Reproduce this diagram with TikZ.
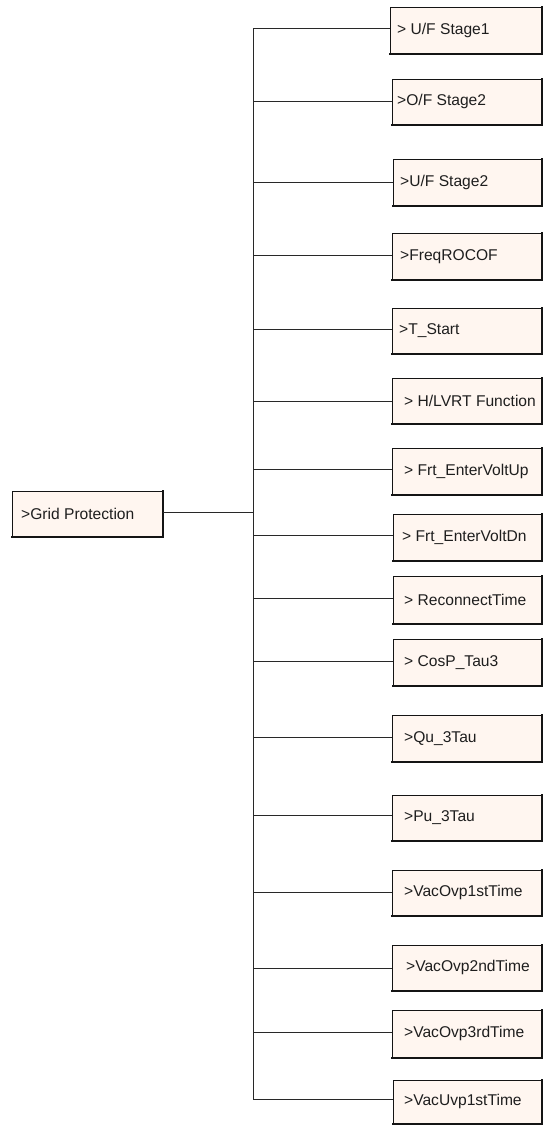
\documentclass[tikz,border=0pt]{standalone}
\usepackage{fontspec}
\setmainfont{Liberation Sans}
\definecolor{boxfill}{RGB}{255,246,240}
\definecolor{boxline}{RGB}{20,20,20}
\definecolor{conn}{RGB}{40,40,40}
\definecolor{txt}{RGB}{30,30,30}
\tikzset{
  leaf/.style={draw=boxline, line width=0.9pt, fill=boxfill, anchor=north west, inner sep=0pt, rectangle},
  shadeline/.style={draw=boxline, line width=2.4pt, line cap=rect},
  lbl/.style={anchor=west, inner sep=0pt, text=txt, font=\fontsize{15.6}{18}\selectfont},
  wire/.style={draw=conn, line width=1pt}
}
\newcommand\gpbox[7]{%
  \node[leaf, minimum width={#3-#2}, minimum height={#5-#4}] (#1) at (#2,#4) {};
  \draw[shadeline] (#1.north east) -- (#1.south east) -- (#1.south west);
  \node[lbl] (#1t) at ([xshift=#6pt]#1.west) {#7};
}
\begin{document}
\begin{tikzpicture}[x=1pt,y=-1pt]
\useasboundingbox (0,0) rectangle (543,1125);
% root
\gpbox{root}{12}{162}{491}{536}{9}{>Grid Protection}
% leaves: name, left, right, top, bottom, pad, text
\gpbox{b1}{390}{541}{7}{53}{7}{> U/F Stage1}
\gpbox{b2}{392}{541}{79}{124}{5}{>O/F Stage2}
\gpbox{b3}{393}{541}{159}{205}{7}{>U/F Stage2}
\gpbox{b4}{392}{541}{233}{279}{8}{>FreqROCOF}
\gpbox{b5}{392}{541}{308}{353}{7}{>T\_Start}
\gpbox{b6}{392}{541}{378}{423}{12}{> H/LVRT Function}
\gpbox{b7}{392}{541}{448}{494}{12}{> Frt\_EnterVoltUp}
\gpbox{b8}{393}{541}{514}{560}{9}{> Frt\_EnterVoltDn}
\gpbox{b9}{393}{541}{576}{623}{11}{> ReconnectTime}
\gpbox{b10}{393}{541}{639}{685}{11}{> CosP\_Tau3}
\gpbox{b11}{392}{541}{715}{761}{12}{>Qu\_3Tau}
\gpbox{b12}{392}{541}{795}{840}{12}{>Pu\_3Tau}
\gpbox{b13}{392}{541}{870}{915}{12}{>VacOvp1stTime}
\gpbox{b14}{392}{541}{945}{990}{14}{>VacOvp2ndTime}
\gpbox{b15}{392}{541}{1010}{1057}{12}{>VacOvp3rdTime}
\gpbox{b16}{393}{541}{1080}{1123}{11}{>VacUvp1stTime}
% junctions on the trunk
\coordinate (jr) at (253,512);
\coordinate (j1) at (253,28);
\coordinate (j2) at (253,101);
\coordinate (j3) at (253,182);
\coordinate (j4) at (253,255);
\coordinate (j5) at (253,329);
\coordinate (j6) at (253,401);
\coordinate (j7) at (253,469);
\coordinate (j8) at (253,535);
\coordinate (j9) at (253,598);
\coordinate (j10) at (253,661);
\coordinate (j11) at (253,737);
\coordinate (j12) at (253,815);
\coordinate (j13) at (253,892);
\coordinate (j14) at (253,968);
\coordinate (j15) at (253,1032);
\coordinate (j16) at (253,1099);
\draw[wire] (j1) -- (j16);
\draw[wire] (jr -| root.east) -- (jr);
\foreach \i in {1,...,16} {
  \draw[wire] (j\i) -- (j\i -| b\i.west);
}
\end{tikzpicture}
\end{document}
